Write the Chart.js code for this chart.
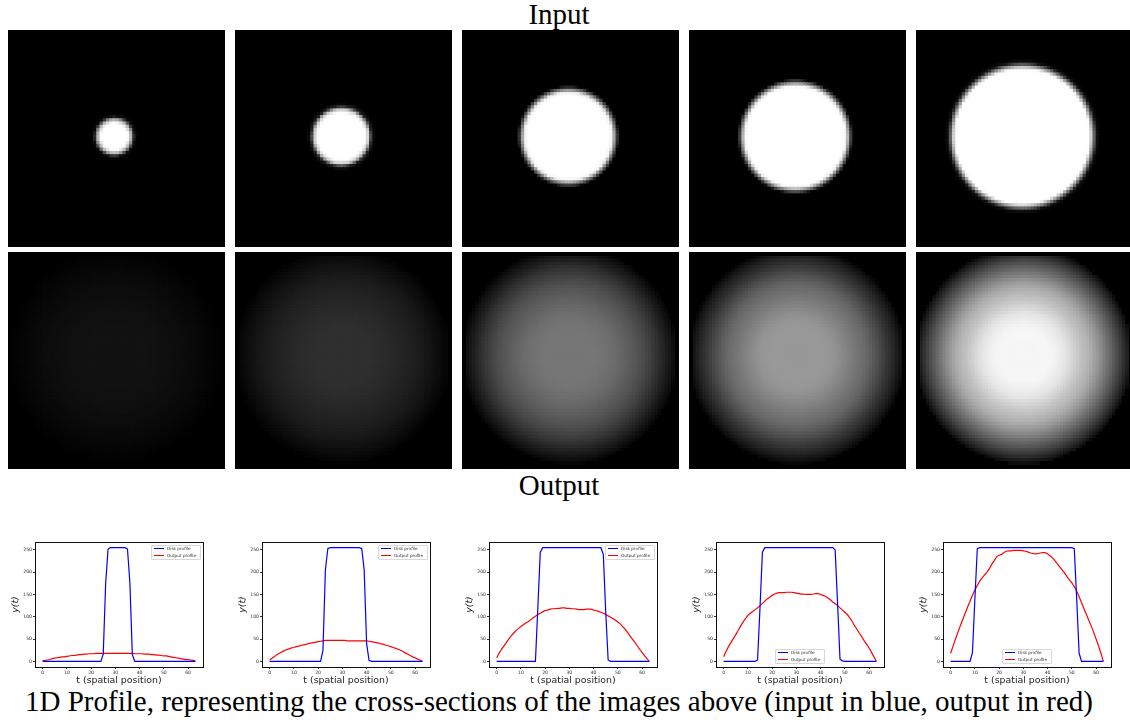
<!DOCTYPE html>
<html>
<head>
<meta charset="utf-8">
<script src="https://cdn.jsdelivr.net/npm/chart.js@4"></script>
<style>
  html, body { margin: 0; background: #fff; width: 1130px; height: 722px; overflow: hidden; }
  canvas { position: absolute; }
  .cap { position: absolute; left: 0; width: 1118px; text-align: center; font-family: "Liberation Serif", serif; color: #000; white-space: nowrap; }
  .legend { position: absolute; box-sizing: border-box; width: 50px; height: 15px; background: #fff; border: 1px solid #d8d8d8; border-radius: 1px; font: 4.2px "DejaVu Sans", sans-serif; color: #333; padding: 0 0 0 2px; line-height: 6.6px; filter: blur(0.3px); }
  .legend i { display: inline-block; width: 10px; height: 1px; vertical-align: middle; margin-right: 3px; }
</style>
</head>
<body>
<div class="cap" style="top:-2px;font-size:29px">Input</div>
<div class="cap" style="top:469px;font-size:29px">Output</div>
<div class="cap" style="top:685px;font-size:29px;">1D Profile, representing the cross-sections of the images above (input in blue, output in red)</div>
<script>
// Sample positions and axis ticks
const positions = Array.from({ length: 64 }, (_, i) => i);
const xTicks = [0, 10, 20, 30, 40, 50, 60];
const yTicks = [0, 50, 100, 150, 200, 250];
const seriesNames = ["Disk profile", "Output profile"];

// Input (disk) cross-sections
const disk1 = [0,0,0,0,0,0,0,0,0,0,0,0,0,0,0,0,0,0,0,0,0,0,0,0,0,16,175,252,255,255,255,255,255,255,255,252,175,15,0,0,0,0,0,0,0,0,0,0,0,0,0,0,0,0,0,0,0,0,0,0,0,0,0,0];
const disk2 = [0,0,0,0,0,0,0,0,0,0,0,0,0,0,0,0,0,0,0,0,0,0,25,205,253,255,255,255,255,255,255,255,255,255,255,255,255,255,253,205,40,2,0,0,0,0,0,0,0,0,0,0,0,0,0,0,0,0,0,0,0,0,0,0];
const disk3 = [0,0,0,0,0,0,0,0,0,0,0,0,0,0,0,0,0,120,245,255,255,255,255,255,255,255,255,255,255,255,255,255,255,255,255,255,255,255,255,255,255,255,255,255,240,110,3,0,0,0,0,0,0,0,0,0,0,0,0,0,0,0,0,0];
const disk4 = [0,0,0,0,0,0,0,0,0,0,0,0,0,0,3,120,245,255,255,255,255,255,255,255,255,255,255,255,255,255,255,255,255,255,255,255,255,255,255,255,255,255,255,255,255,255,250,130,5,1,0,0,0,0,0,0,0,0,0,0,0,0,0,0];
const disk5 = [0,0,0,0,0,0,0,0,0,20,140,253,255,255,255,255,255,255,255,255,255,255,255,255,255,255,255,255,255,255,255,255,255,255,255,255,255,255,255,255,255,255,255,255,255,255,255,255,255,255,255,253,140,18,0,0,0,0,0,0,0,0,0,0];

// Output cross-sections
const output1 = [1,2,3,4,6,7,8,9,10,10,11,12,13,13,14,15,15,16,16,17,17,17,18,18,18,18,18,18,18,18,18,18,18,18,18,18,18,18,17,17,17,17,16,16,16,15,15,14,14,13,12,12,11,10,9,8,7,6,5,4,4,3,2,1];
const output2 = [3,7,11,15,18,21,24,26,28,30,31,33,34,36,37,38,40,41,42,43,44,45,46,47,47,47,47,47,47,47,47,47,46,46,46,46,46,46,46,46,46,45,44,43,42,41,39,38,36,35,33,31,29,27,25,22,19,16,13,10,8,5,3,0];
const output3 = [8,18,27,34,42,50,57,63,69,74,78,82,86,89,93,97,101,105,108,111,114,115,117,118,118,119,119,120,120,119,119,118,118,117,116,116,116,117,117,117,115,114,112,110,108,105,102,99,96,92,88,84,78,72,65,57,50,43,35,27,20,13,6,0];
const output4 = [10,22,33,42,51,60,69,79,88,96,103,108,112,116,120,125,130,135,140,144,148,151,153,154,154,154,155,155,155,154,153,152,151,151,150,150,150,151,152,152,150,148,146,142,138,133,129,125,120,115,110,105,98,90,80,72,63,55,46,38,30,20,10,0];
const output5 = [18,34,50,65,80,94,108,122,135,148,160,170,180,187,194,200,208,218,226,235,238,240,244,247,248,248,249,249,249,249,248,247,245,243,242,241,242,243,244,244,241,237,232,226,219,212,205,198,190,183,176,168,157,145,132,118,105,92,79,65,50,35,18,0];

const diskProfiles = [disk1, disk2, disk3, disk4, disk5];
const outputProfiles = [output1, output2, output3, output4, output5];

// Layout of the panels
const imageLefts = [8, 235, 462, 689, 916];
const imageSize = 217;
const imageTops = [30, 252];
const plotLefts = [35, 262, 489, 716, 943];
const legendAtBottom = [false, false, false, true, true];

function addCanvas(left, top, width, height) {
    const canvas = document.createElement("canvas");
    canvas.width = width;
    canvas.height = height;
    canvas.style.left = left + "px";
    canvas.style.top = top + "px";
    document.body.appendChild(canvas);
    return canvas;
}

// Look up a cell from the profile, by its distance to the centre of the disk
function radialValue(profile, center, r) {
    const sample = (t) => {
        if (t < 0 || t > 63) return 0;
        const low = Math.floor(t);
        const high = Math.min(low + 1, 63);
        return profile[low] + (profile[high] - profile[low]) * (t - low);
    };
    return (sample(center - r) + sample(center + r)) / 2;
}

function drawImage(profile, center, rScale, cx, cy, left, top) {
    const cells = [];
    positions.forEach((row) => {
        positions.forEach((col) => {
            const r = Math.hypot(col - cx, row - cy) * rScale;
            cells.push({ x: col, y: row, v: radialValue(profile, center, r) });
        });
    });
    new Chart(addCanvas(left, top, imageSize, imageSize), {
        type: "scatter",
        data: {
            datasets: [{
                data: cells,
                pointStyle: "rect",
                pointRadius: 3.2,
                pointBorderWidth: 0,
                pointBackgroundColor: (c) => {
                    const g = Math.round(c.raw.v);
                    return `rgb(${g},${g},${g})`;
                },
            }],
        },
        options: {
            responsive: false,
            animation: false,
            events: [],
            layout: { padding: 0 },
            plugins: { legend: { display: false }, tooltip: { enabled: false } },
            scales: {
                x: { display: false, min: -0.5, max: 63.5 },
                y: { display: false, min: -0.5, max: 63.5, reverse: true },
            },
        },
        plugins: [{
            id: "blackBackground",
            beforeDraw: (chart) => {
                chart.ctx.fillStyle = "#000";
                chart.ctx.fillRect(0, 0, chart.width, chart.height);
            },
        }],
    });
}

// Black frame around the line plots
const framePlugin = {
    id: "frame",
    afterDraw: (chart) => {
        const a = chart.chartArea;
        chart.ctx.strokeStyle = "#111";
        chart.ctx.lineWidth = 1;
        chart.ctx.strokeRect(a.left + 0.5, a.top + 0.5, a.width, a.height);
    },
};

function drawProfile(disk, output, left, atBottom) {
    const canvas = addCanvas(left - 30, 537, 204, 149);
    canvas.style.filter = "blur(0.3px)";
    new Chart(canvas, {
        type: "line",
        data: {
            labels: positions,
            datasets: [
                { label: seriesNames[0], data: disk, borderColor: "#0000ff", borderWidth: 1.2, pointRadius: 0, tension: 0 },
                { label: seriesNames[1], data: output, borderColor: "#ff0000", borderWidth: 1.2, pointRadius: 0, tension: 0 },
            ],
        },
        options: {
            responsive: false,
            animation: false,
            events: [],
            layout: { padding: { top: 5, right: 6 } },
            plugins: { legend: { display: false }, tooltip: { enabled: false } },
            scales: {
                x: {
                    type: "linear",
                    min: -3.15,
                    max: 66.15,
                    afterFit: (s) => { s.height = 19; },
                    afterBuildTicks: (s) => { s.ticks = xTicks.map((v) => ({ value: v })); },
                    grid: { drawOnChartArea: false, drawTicks: true, tickLength: 2, color: "#333" },
                    border: { display: false },
                    ticks: { font: { size: 4.6, family: "DejaVu Sans" }, color: "#333", padding: 1, maxRotation: 0, autoSkip: false },
                    title: { display: true, text: "t (spatial position)", font: { size: 9.4, family: "DejaVu Sans" }, color: "#222", padding: { top: 1, bottom: 0 } },
                },
                y: {
                    min: -12.75,
                    max: 267.75,
                    afterFit: (s) => { s.width = 30; },
                    afterBuildTicks: (s) => { s.ticks = yTicks.map((v) => ({ value: v })); },
                    grid: { drawOnChartArea: false, drawTicks: true, tickLength: 2, color: "#333" },
                    border: { display: false },
                    ticks: { font: { size: 4.6, family: "DejaVu Sans" }, color: "#333", padding: 1, autoSkip: false },
                    title: { display: true, text: "y(t)", font: { size: 9.4, style: "italic", family: "DejaVu Sans" }, color: "#222", padding: { top: 5, bottom: 0 } },
                },
            },
        },
        plugins: [framePlugin],
    });

    // Legend box inside the axes
    const legend = document.createElement("div");
    legend.className = "legend";
    legend.innerHTML = seriesNames
        .map((name, i) => `<div><i style="background:${i ? "#ff0000" : "#0000ff"}"></i>${name}</div>`)
        .join("");
    legend.style.left = left + (atBottom ? 59 : 116) + "px";
    legend.style.top = (atBottom ? 649 : 545) + "px";
    document.body.appendChild(legend);
}

outputProfiles.forEach((output, i) => {
    drawImage(diskProfiles[i], 31, 0.97, 31, 31.1, imageLefts[i], imageTops[0]);
    drawImage(output, 31.5, 0.95, 31.4, 30.2, imageLefts[i], imageTops[1]);
    drawProfile(diskProfiles[i], output, plotLefts[i], legendAtBottom[i]);
});
</script>
</body>
</html>
